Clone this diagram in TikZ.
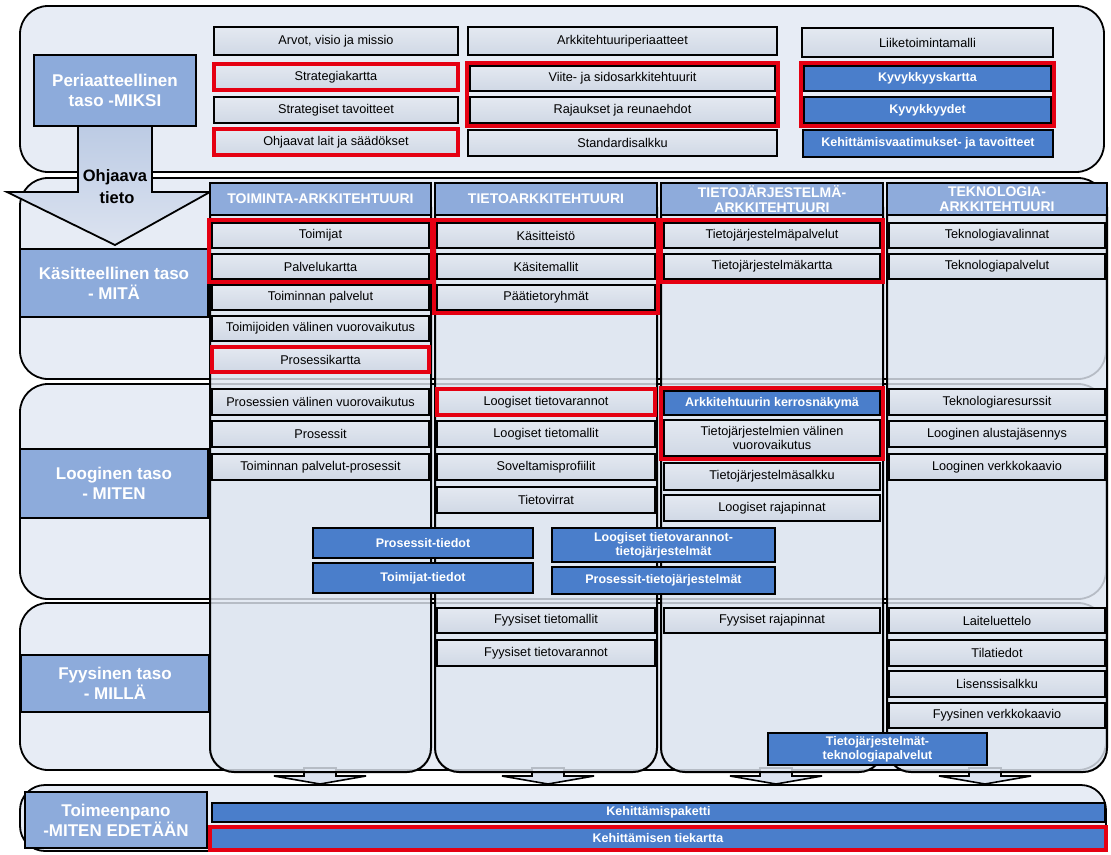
\documentclass[tikz,border=0pt]{standalone}
\usepackage{fontspec}
\setmainfont{Liberation Sans}
\usetikzlibrary{fit}

\definecolor{bandbg}{HTML}{E7ECF5}
\definecolor{colbg}{HTML}{DFE6F1}
\definecolor{itemtop}{HTML}{E4E9F1}
\definecolor{itembot}{HTML}{D0D8E5}
\definecolor{levelbg}{HTML}{8DABDB}
\definecolor{headbg}{HTML}{8EABDB}
\definecolor{bluebg}{HTML}{4A7ECB}
\definecolor{redline}{HTML}{E50012}
\definecolor{arrowtop}{HTML}{BCCBE4}
\definecolor{arrowbot}{HTML}{DCE3F0}

% box from corner (#3,#4) to corner (#5,#6), style #1, name #2, text #7
\newcommand\putbox[7]{%
  \node[#1,minimum width={(#5)-(#3)},minimum height={(#6)-(#4)}]
    (#2) at ({((#3)+(#5))/2},{((#4)+(#6))/2}) {#7};}

% small downward arrow under a column, centred at x=#1
\newcommand\downtab[1]{%
  \draw[line width=1.6pt,fill=arrowbot]
    (#1-16,768) -- (#1+16,768) -- (#1+16,776) -- (#1+46,776) --
    (#1,784) -- (#1-46,776) -- (#1-16,776) -- cycle;}

\begin{document}
\begin{tikzpicture}[x=1pt,y=-1pt,
  band/.style={draw=black,line width=1.8pt,fill=bandbg,rounded corners=28pt,inner sep=0pt},
  column/.style={draw=black,line width=2pt,fill=colbg,fill opacity=0.82,rounded corners=24pt,inner sep=0pt},
  item/.style={draw=black,line width=1.6pt,top color=itemtop,bottom color=itembot,
    text=black,font=\fontsize{12.7}{14.5}\selectfont,inner sep=0pt,align=center},
  reditem/.style={item,draw=redline,line width=4pt},
  blueitem/.style={draw=black,line width=1.6pt,fill=bluebg,text=white,
    font=\bfseries\fontsize{12.5}{14}\selectfont,inner sep=0pt,align=center},
  redblue/.style={blueitem,draw=redline,line width=4pt},
  header/.style={draw=black,line width=1.6pt,fill=headbg,text=white,
    font=\bfseries\fontsize{14}{14.5}\selectfont,inner sep=0pt,align=center},
  levelbox/.style={draw=black,line width=2pt,fill=levelbg,text=white,
    font=\bfseries\fontsize{17}{20}\selectfont,inner sep=0pt,align=center},
  redframe/.style={draw=redline,line width=4pt,inner sep=1.8pt},
]
\useasboundingbox[fill=white] (0,0) rectangle (1111,854);

% ---- horizontal levels ----
\putbox{band}{band1}{20}{6}{1104}{172}{}
\putbox{band}{band2}{20}{178}{1106}{379}{}
\putbox{band}{band3}{20}{384}{1106}{599}{}
\putbox{band}{band4}{20}{603}{1106}{770}{}
\putbox{band,rounded corners=25pt}{band5}{20}{785}{1106}{851}{}

% ---- arrows from the columns down to implementation ----
\downtab{320}
\downtab{548}
\downtab{776}
\downtab{985}

% ---- architecture columns ----
\putbox{column}{col1}{210}{183}{431}{772}{}
\putbox{column}{col2}{435}{183}{657}{772}{}
\putbox{column}{col3}{661}{183}{883}{772}{}
\putbox{column}{col4}{887}{183}{1107}{772}{}

% ---- guiding information arrow ----
\draw[line width=1.8pt,top color=arrowtop,bottom color=arrowbot]
  (78,125) -- (152,125) -- (152,192) -- (210,192) -- (115,245) --
  (7,192) -- (78,192) -- cycle;
\node[font=\bfseries\fontsize{16.5}{18}\selectfont,inner sep=0pt] (ohj1) at (115,177) {Ohjaava};
\node[font=\bfseries\fontsize{16.5}{18}\selectfont,inner sep=0pt] (ohj2) at (117,198) {tieto};

% ---- level labels ----
\putbox{levelbox}{lv1}{34}{55}{196}{126}{Periaatteellinen\\taso -MIKSI}
\putbox{levelbox}{lv2}{20}{249}{208}{317}{Käsitteellinen taso\\- MITÄ}
\putbox{levelbox}{lv3}{20}{449}{208}{518}{Looginen taso\\- MITEN}
\putbox{levelbox}{lv4}{21}{655}{209}{712}{Fyysinen taso\\- MILLÄ}
\putbox{levelbox}{lv5}{25}{792}{207}{848}{Toimeenpano\\-MITEN EDETÄÄN}

% ---- principles level ----
\putbox{item}{a1}{214}{27}{458}{55}{Arvot, visio ja missio}
\putbox{reditem}{a2}{214}{64}{458}{90}{Strategiakartta}
\putbox{item}{a3}{214}{97}{458}{123}{Strategiset tavoitteet}
\putbox{reditem}{a4}{214}{129}{458}{155}{Ohjaavat lait ja säädökset}

\putbox{item}{b1}{468}{27}{777}{55}{Arkkitehtuuriperiaatteet}
\putbox{item}{b2}{470}{66}{775}{91}{Viite- ja sidosarkkitehtuurit}
\putbox{item}{b3}{470}{97}{775}{123}{Rajaukset ja reunaehdot}
\node[redframe,fit=(b2)(b3)] (rb) {};
\putbox{item}{b4}{468}{130}{777}{156}{Standardisalkku}

\putbox{item}{c1}{802}{28}{1053}{57}{Liiketoimintamalli}
\putbox{blueitem}{c2}{804}{66}{1051}{91}{Kyvykkyyskartta}
\putbox{blueitem}{c3}{804}{97}{1051}{123}{Kyvykkyydet}
\node[redframe,fit=(c2)(c3)] (rc) {};
\putbox{blueitem}{c4}{803}{130}{1053}{157}{Kehittämisvaatimukset- ja tavoitteet}

% ---- column headers ----
\putbox{header}{h1}{210}{183}{431}{215}{TOIMINTA-ARKKITEHTUURI}
\putbox{header}{h2}{435}{183}{657}{215}{TIETOARKKITEHTUURI}
\putbox{header}{h3}{661}{183}{883}{215}{TIETOJÄRJESTELMÄ-\\ARKKITEHTUURI}
\putbox{header}{h4}{887}{183}{1107}{215}{TEKNOLOGIA-\\ARKKITEHTUURI}

% ---- conceptual level ----
\putbox{item}{k11}{212}{223}{429}{248}{Toimijat}
\putbox{item}{k12}{212}{254}{429}{279}{Palvelukartta}
\node[redframe,fit=(k11)(k12)] (rk1) {};
\putbox{item}{k13}{212}{285}{429}{310}{Toiminnan palvelut}
\putbox{item}{k14}{212}{316}{429}{341}{Toimijoiden välinen vuorovaikutus}
\putbox{reditem}{k15}{212}{347}{429}{372}{Prosessikartta}

\putbox{item}{k21}{437}{223}{655}{248}{Käsitteistö}
\putbox{item}{k22}{437}{254}{655}{279}{Käsitemallit}
\putbox{item}{k23}{437}{285}{655}{310}{Päätietoryhmät}
\node[redframe,fit=(k21)(k23)] (rk2) {};

\putbox{item}{k31}{664}{223}{880}{248}{Tietojärjestelmäpalvelut}
\putbox{item}{k32}{664}{254}{880}{279}{Tietojärjestelmäkartta}
\node[redframe,fit=(k31)(k32)] (rk3) {};

\putbox{item}{k41}{889}{223}{1105}{248}{Teknologiavalinnat}
\putbox{item}{k42}{889}{254}{1105}{279}{Teknologiapalvelut}

% ---- logical level ----
\putbox{item}{l11}{212}{389}{429}{415}{Prosessien välinen vuorovaikutus}
\putbox{item}{l12}{212}{421}{429}{447}{Prosessit}
\putbox{item}{l13}{212}{454}{429}{480}{Toiminnan palvelut-prosessit}

\putbox{reditem}{l21}{437}{389}{655}{415}{Loogiset tietovarannot}
\putbox{item}{l22}{437}{421}{655}{447}{Loogiset tietomallit}
\putbox{item}{l23}{437}{454}{655}{480}{Soveltamisprofiilit}
\putbox{item}{l24}{437}{487}{655}{513}{Tietovirrat}

\putbox{blueitem}{l31}{664}{391}{880}{415}{Arkkitehtuurin kerrosnäkymä}
\putbox{item}{l32}{664}{420}{880}{456}{Tietojärjestelmien välinen\\vuorovaikutus}
\node[redframe,fit=(l31)(l32)] (rl3) {};
\putbox{item}{l33}{664}{463}{880}{490}{Tietojärjestelmäsalkku}
\putbox{item}{l34}{664}{495}{880}{521}{Loogiset rajapinnat}

\putbox{item}{l41}{889}{389}{1105}{415}{Teknologiaresurssit}
\putbox{item}{l42}{889}{421}{1105}{447}{Looginen alustajäsennys}
\putbox{item}{l43}{889}{454}{1105}{480}{Looginen verkkokaavio}

\putbox{blueitem}{x1}{313}{528}{533}{558}{Prosessit-tiedot}
\putbox{blueitem}{x2}{313}{563}{533}{593}{Toimijat-tiedot}
\putbox{blueitem}{x3}{552}{528}{775}{562}{Loogiset tietovarannot-\\tietojärjestelmät}
\putbox{blueitem}{x4}{552}{567}{775}{594}{Prosessit-tietojärjestelmät}

% ---- physical level ----
\putbox{item}{f21}{437}{608}{655}{633}{Fyysiset tietomallit}
\putbox{item}{f22}{437}{640}{655}{666}{Fyysiset tietovarannot}
\putbox{item}{f31}{664}{608}{880}{633}{Fyysiset rajapinnat}
\putbox{item}{f41}{889}{608}{1105}{633}{Laiteluettelo}
\putbox{item}{f42}{889}{640}{1105}{666}{Tilatiedot}
\putbox{item}{f43}{889}{671}{1105}{697}{Lisenssisalkku}
\putbox{item}{f44}{889}{703}{1105}{728}{Fyysinen verkkokaavio}
\putbox{blueitem}{x5}{768}{733}{987}{765}{Tietojärjestelmät-\\teknologiapalvelut}

% ---- implementation ----
\putbox{blueitem}{t1}{212}{803}{1105}{822}{Kehittämispaketti}
\putbox{redblue}{t2}{210}{827}{1106}{850}{Kehittämisen tiekartta}
\end{tikzpicture}
\end{document}
